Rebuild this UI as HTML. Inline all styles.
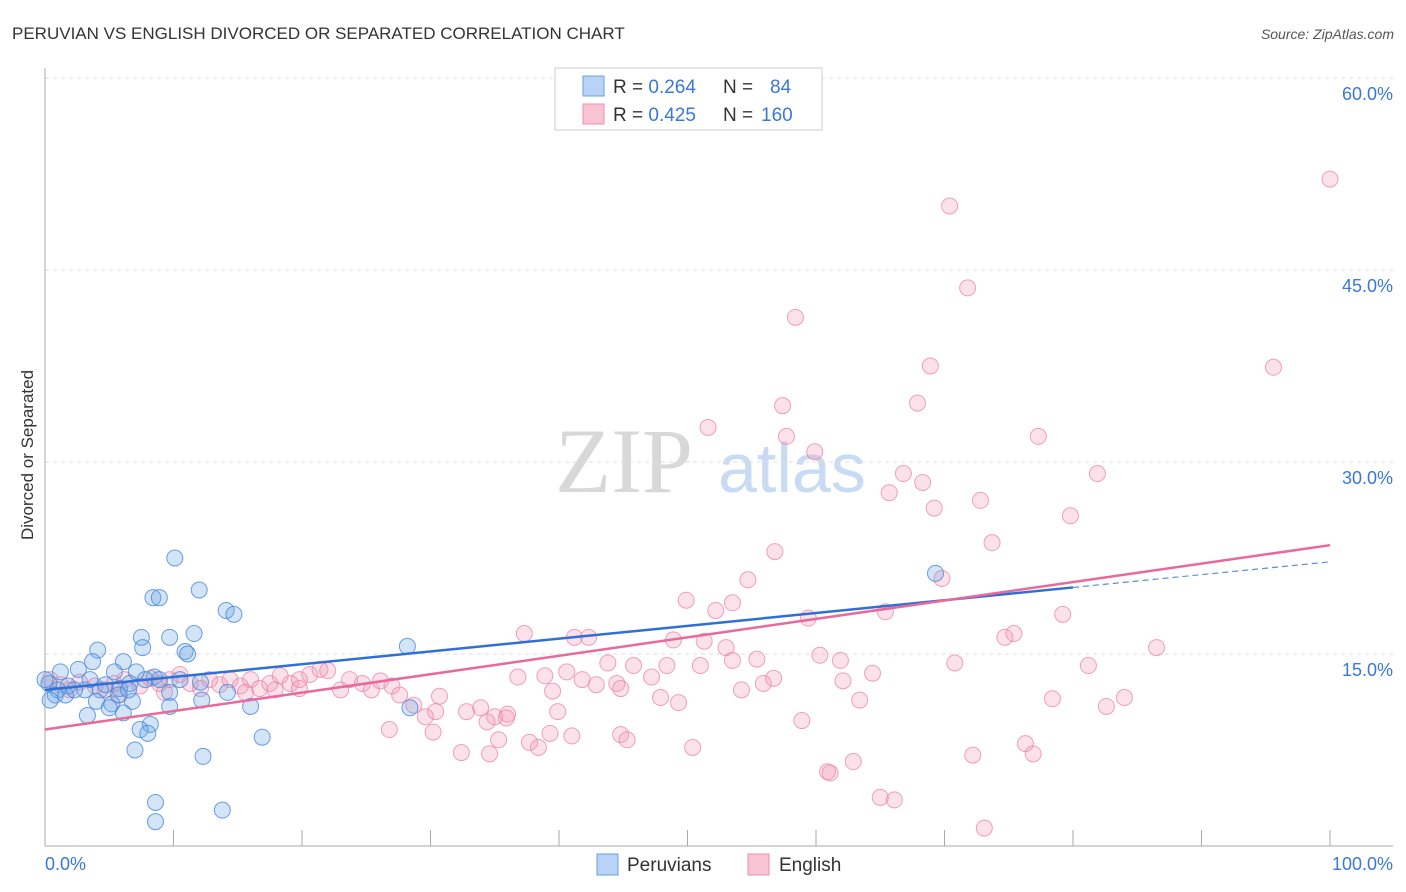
<!DOCTYPE html>
<html><head><meta charset="utf-8"><style>
body{margin:0;background:#fff;font-family:"Liberation Sans",sans-serif}
svg{display:block}
</style></head><body>
<svg id="chart" width="1406" height="892" viewBox="0 0 1406 892" xmlns="http://www.w3.org/2000/svg">
<text x="12" y="39" font-size="17" fill="#333">PERUVIAN VS ENGLISH DIVORCED OR SEPARATED CORRELATION CHART</text>
<text x="1394" y="39" font-size="14" fill="#555" font-style="italic" text-anchor="end">Source: ZipAtlas.com</text>
<g>
<text x="555" y="492" font-size="92" fill="#d8d8d8" font-family="Liberation Serif,serif">ZIP</text>
<text x="718" y="492" font-size="70" fill="#c9dbf2">atlas</text>
</g>
<g id="grid"></g>
<g id="axes"></g>
<g id="pts"></g>
<g id="trends"></g>
<text transform="translate(33,455) rotate(-90)" font-size="17" fill="#333" text-anchor="middle">Divorced or Separated</text>
<g>
<rect x="555" y="68" width="267" height="62" fill="#fff" stroke="#ccc"/>
<rect x="583" y="76" width="21" height="20" fill="#b8d3f5" stroke="#6aa0e2"/>
<rect x="583" y="104" width="21" height="20" fill="#f8c4d4" stroke="#ec8fae"/>
<text x="613" y="93" font-size="19" fill="#333">R = <tspan fill="#3a78d4">0.264</tspan><tspan x="723">N = </tspan><tspan x="770" fill="#3a78d4">84</tspan></text>
<text x="613" y="121" font-size="19" fill="#333">R = <tspan fill="#3a78d4">0.425</tspan><tspan x="723">N = </tspan><tspan x="761" fill="#3a78d4">160</tspan></text>
</g>
<g>
<rect x="597" y="854" width="21" height="21" fill="#b8d3f5" stroke="#6aa0e2"/>
<text x="627" y="871" font-size="19" fill="#333">Peruvians</text>
<rect x="748" y="854" width="21" height="21" fill="#f8c4d4" stroke="#ec8fae"/>
<text x="779" y="871" font-size="19" fill="#333">English</text>
</g>
</svg>
<script>
const xTicks=[0,10,20,30,40,50,60,70,80,90,100];
const yTicks=[15,30,45,60];
const yTickLabels=["15.0%","30.0%","45.0%","60.0%"];
const xEndLabels=["0.0%","100.0%"];
const peruX=[10.1,12.0,8.4,8.9,14.1,14.7,7.5,9.7,11.6,7.6,10.9,11.1,4.1,28.2,3.7,6.1,7.1,2.6,1.2,5.4,8.5,0.3,1.0,1.8,3.1,4.3,5.8,6.6,9.7,14.2,4.0,5.2,6.8,12.2,16.0,5.0,6.1,3.3,9.7,8.2,7.4,8.0,7.0,16.9,12.3,8.6,8.6,13.8,69.3,28.4,0,0.8,1.6,2.3,0.4,5.7,6.5,4.7,3.5,7.8,8.9,10.5,12.1];
const peruY=[22.5,20.0,19.4,19.4,18.4,18.1,16.3,16.3,16.6,15.5,15.2,15.0,15.3,15.6,14.4,14.4,13.6,13.8,13.6,13.6,13.2,12.7,12.2,12.5,12.2,12.2,12.3,12.7,12.0,12.0,11.3,11.1,11.3,11.4,10.9,10.8,10.4,10.2,10.9,9.5,9.1,8.8,7.5,8.5,7.0,3.4,1.9,2.8,21.3,10.8,13.0,11.8,11.8,12.2,11.4,11.8,12.2,12.6,13.0,13.0,13.0,13.0,12.8];
const engX=[100,70.4,71.8,58.4,68.9,95.6,57.4,67.9,51.6,57.7,77.3,59.9,66.8,81.9,68.3,65.7,72.8,69.2,79.8,73.7,56.8,69.8,54.7,49.9,53.5,52.2,65.4,59.4,79.2,37.3,74.7,75.4,41.2,42.3,48.9,51.3,43.8,53.0,86.5,55.4,60.3,61.9,53.5,45.8,48.4,51.0,70.8,81.2,64.4,36.8,38.9,40.6,47.2,62.1,41.8,44.5,42.9,55.9,56.7,54.2,30.7,39.5,44.8,47.9,49.3,63.4,78.4,84.0,82.6,28.7,32.8,33.9,30.4,36.0,39.9,29.6,35.0,34.4,35.9,58.9,26.8,30.2,39.3,44.8,41.0,45.3,35.3,37.7,32.4,34.6,38.4,50.4,76.3,76.9,72.2,62.9,60.9,61.1,65.0,66.1,73.1,0.4,1.2,1.9,2.7,3.9,4.7,5.4,6.2,7.4,8.2,8.9,9.7,10.5,11.3,12.1,12.8,13.6,14.4,15.2,16.0,16.7,17.5,18.3,19.1,19.8,20.6,21.4,22.0,23.0,23.7,24.7,25.4,26.1,27.0,27.6,5.8,9.3,15.6,19.8,17.9];
const engY=[52.1,50.0,43.6,41.3,37.5,37.4,34.4,34.6,32.7,32.0,32.0,30.8,29.1,29.1,28.4,27.6,27.0,26.4,25.8,23.7,23.0,20.9,20.8,19.2,19.0,18.4,18.3,17.8,18.1,16.6,16.3,16.6,16.3,16.3,16.1,16.0,14.3,15.5,15.5,14.6,14.9,14.5,14.5,14.1,14.1,14.1,14.3,14.1,13.5,13.2,13.3,13.6,13.2,12.9,13.0,12.7,12.6,12.7,13.1,12.2,11.7,12.1,12.3,11.6,11.2,11.4,11.5,11.6,10.9,11.0,10.5,10.8,10.5,10.3,10.5,10.1,10.1,9.7,10.0,9.8,9.1,8.9,8.8,8.7,8.6,8.3,8.3,8.1,7.3,7.2,7.7,7.7,8.0,7.2,7.1,6.6,5.8,5.7,3.8,3.6,1.4,13.0,12.6,12.2,12.8,12.5,12.2,12.7,13.0,12.5,13.1,12.7,13.0,13.4,12.7,12.3,13.0,12.6,13.0,12.5,13.0,12.3,12.7,13.3,12.7,13.0,13.4,13.8,13.7,12.2,13.0,12.7,12.2,12.9,12.5,11.8,11.8,12.0,12.0,12.3,12.2];
const peruTrend=[12.2,20.2]; // y at x=0 and x=80
const peruTrendDashEnd=[22.2]; // y at x=100
const engTrend=[9.1,23.5]; // y at x=0 and x=100
const NS="http://www.w3.org/2000/svg";
const X=v=>45+v*12.85, Y=v=>846-v*12.8;
function mk(t,a,p){const e=document.createElementNS(NS,t);for(const k in a)e.setAttribute(k,a[k]);p.appendChild(e);return e;}
const grid=document.getElementById('grid'),axes=document.getElementById('axes'),pts=document.getElementById('pts'),tr=document.getElementById('trends');
yTicks.forEach((v,i)=>{
 const l=mk('line',{x1:45,x2:1393,y1:Y(v),y2:Y(v),stroke:'#ddd','stroke-dasharray':'4,4'},grid);
 
 
 const t=mk('text',{x:1393,y:Y(v)+22,'font-size':18,fill:'#3a78d4','text-anchor':'end'},axes);
 t.textContent=yTickLabels[i];
 
 
});
const tg=mk('line',{x1:45,x2:1393,y1:Y(60),y2:Y(60),stroke:'#ddd','stroke-dasharray':'4,4'},grid);


const ya=mk('line',{x1:45,x2:45,y1:68,y2:846,stroke:'#aaa'},axes);


const xa=mk('line',{x1:45,x2:1393,y1:846,y2:846,stroke:'#aaa'},axes);


xTicks.forEach(v=>{
 const l=mk('line',{x1:X(v),x2:X(v),y1:830,y2:846,stroke:'#aaa'},axes);
 
 
});
[[0,'start',45],[100,'end',1393]].forEach((a,i)=>{
 const t=mk('text',{x:a[2],y:870,'font-size':18,fill:'#3a78d4','text-anchor':a[1]},axes);
 t.textContent=xEndLabels[i];
 
 
});
engX.forEach((x,i)=>{
 const c=mk('circle',{cx:X(x),cy:Y(engY[i]),r:8,fill:'rgba(242,150,180,0.28)',stroke:'rgba(236,130,165,0.75)','stroke-width':1},pts);
 
 
});
peruX.forEach((x,i)=>{
 const c=mk('circle',{cx:X(x),cy:Y(peruY[i]),r:8,fill:'rgba(110,165,230,0.3)',stroke:'rgba(70,135,220,0.8)','stroke-width':1},pts);
 
 
});
const l1=mk('line',{x1:X(0),y1:Y(peruTrend[0]),x2:X(80),y2:Y(peruTrend[1]),stroke:'#2f6fd6','stroke-width':2.5},tr);


const l2=mk('line',{x1:X(80),y1:Y(peruTrend[1]),x2:X(100),y2:Y(peruTrendDashEnd[0]),stroke:'#5b8fd8','stroke-width':1.2,'stroke-dasharray':'6,4'},tr);


const l3=mk('line',{x1:X(0),y1:Y(engTrend[0]),x2:X(100),y2:Y(engTrend[1]),stroke:'#e8699a','stroke-width':2.5},tr);


</script>
</body></html>
